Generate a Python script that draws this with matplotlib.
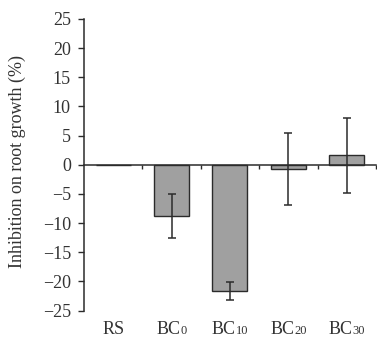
import matplotlib.pyplot as plt
import matplotlib.transforms as mtransforms

# Data
groups = ["RS", "BC0", "BC10", "BC20", "BC30"]
inhibition = [0.0, -8.8, -21.7, -0.7, 1.6]
errors = [0.0, 3.8, 1.55, 6.2, 6.5]
yticks = [-25, -20, -15, -10, -5, 0, 5, 10, 15, 20, 25]

plt.rcParams["font.family"] = ["Liberation Serif", "DejaVu Serif"]
fs = 13
small = 9
txt = "#333333"
dark = "#2b2b2b"

fig = plt.figure(figsize=(3.77, 3.38), dpi=100)
ax = fig.add_axes([0.223, 0.081, 0.774, 0.863])

x = list(range(len(groups)))
ax.bar(x, inhibition, width=0.6, color="#a0a0a0", edgecolor=dark,
       linewidth=1.0, zorder=2)
ex = [xi for xi, e in zip(x, errors) if e > 0]
ey = [v for v, e in zip(inhibition, errors) if e > 0]
ee = [e for e in errors if e > 0]
ax.errorbar(ex, ey, yerr=ee, fmt="none", ecolor=dark,
            elinewidth=1.1, capsize=3, capthick=1.1, zorder=3)

ax.set_xlim(-0.5, len(groups) - 0.5)
ax.set_ylim(-25, 25)
ax.set_yticks(yticks)
ax.set_yticklabels([str(t).replace("-", "\u2212") for t in yticks])

ax.spines["top"].set_visible(False)
ax.spines["right"].set_visible(False)
ax.spines["bottom"].set_position(("data", 0))
for s in ("left", "bottom"):
    ax.spines[s].set_color(dark)
    ax.spines[s].set_linewidth(1.1)

# boundary ticks on the zero line, group labels at the bottom
ax.set_xticks([i + 0.5 for i in x])
ax.set_xticklabels([])
ax.tick_params(axis="x", direction="out", length=3, width=1.0, color=dark)
ax.tick_params(axis="y", direction="out", length=4.5, width=1.0, color=dark,
               labelsize=fs, pad=5, labelcolor=txt)

# "BC" full size, the number in smaller digits right after it
trans = mtransforms.blended_transform_factory(ax.transData, ax.transAxes)
renderer = fig.canvas.get_renderer()
ylab = -0.08
for xi, g in zip(x, groups):
    head, num = g[:2], g[2:]
    if not num:
        ax.text(xi, ylab, head, transform=trans, ha="center",
                va="baseline", fontsize=fs, color=txt)
        continue
    th = ax.text(xi, ylab, head, transform=trans, ha="left",
                 va="baseline", fontsize=fs, color=txt)
    tn = ax.text(xi, ylab, num, transform=trans, ha="left",
                 va="baseline", fontsize=small, color=txt)
    wh = th.get_window_extent(renderer).width * 72 / fig.dpi
    wn = tn.get_window_extent(renderer).width * 72 / fig.dpi
    left = -(wh + wn) / 2
    th.set_transform(mtransforms.offset_copy(trans, fig=fig, x=left,
                                             units="points"))
    tn.set_transform(mtransforms.offset_copy(trans, fig=fig, x=left + wh,
                                             units="points"))

ax.set_ylabel("Inhibition on root growth (%)", fontsize=fs, color=txt)
ax.yaxis.set_label_coords(-0.2, 0.51)

fig.savefig("out.png", dpi=100)
